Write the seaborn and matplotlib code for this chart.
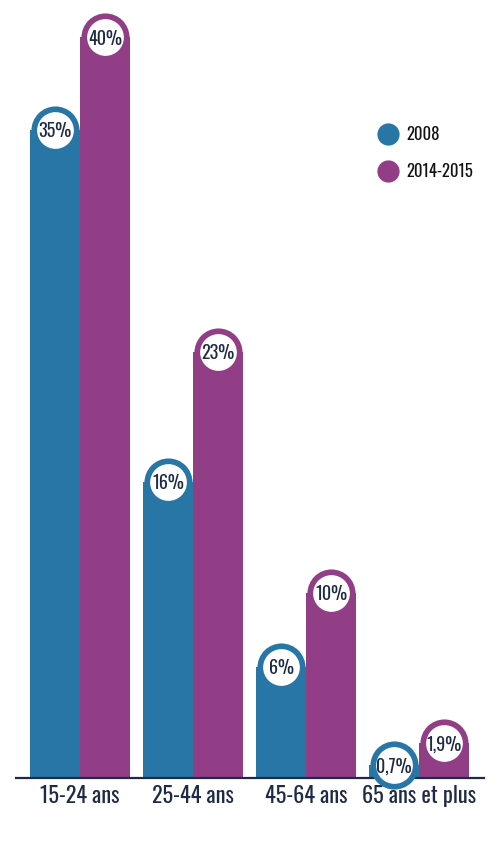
import matplotlib
matplotlib.use("Agg")
import matplotlib.pyplot as plt
import pandas as pd
import seaborn as sns
from matplotlib.lines import Line2D

# data
groups = ["15-24 ans", "25-44 ans", "45-64 ans", "65 ans et plus"]
periods = ["2008", "2014-2015"]
vals_2008 = [35, 16, 6, 0.7]
vals_2014 = [40, 23, 10, 1.9]

BLUE = "#2876A6"
PURPLE = "#913E87"
NAVY = "#1F2B45"
FONTS = ["Oswald", "DejaVu Sans"]

df = pd.DataFrame({
    "group": groups * 2,
    "period": [periods[0]] * 4 + [periods[1]] * 4,
    "value": vals_2008 + vals_2014,
})

sns.set_style("white")
plt.rcParams["font.family"] = FONTS
plt.rcParams["font.weight"] = 300

fig = plt.figure(figsize=(5, 8.43), dpi=100)
ax = fig.add_axes([0.031, 0.0771, 0.936, 0.9229])

sns.barplot(data=df, x="group", y="value", hue="period", hue_order=periods,
            palette=[BLUE, PURPLE], width=0.885, gap=0, saturation=1,
            linewidth=0, legend=False, ax=ax)

ax.set_xlim(-0.57, 3.57)
ax.set_ylim(0, 42)

# round badges on top of each bar
bars = [p for p in ax.patches if p.get_height() > 0]
for p in bars:
    cx = p.get_x() + p.get_width() / 2
    top = p.get_height()
    col = p.get_facecolor()
    ax.scatter([cx], [top], s=1200, color=col, linewidths=0, zorder=3, clip_on=False)
    ax.scatter([cx], [top], s=700, color="white", linewidths=0, zorder=4, clip_on=False)
    lab = f"{top:g}".replace(".", ",") + "%"
    ax.text(cx, top, lab, ha="center", va="center_baseline", fontsize=13,
            color=NAVY, zorder=5, family=FONTS, weight=300)

# axis styling
for s in ["top", "right", "left"]:
    ax.spines[s].set_visible(False)
ax.spines["bottom"].set_color(NAVY)
ax.spines["bottom"].set_linewidth(1.6)
ax.set_yticks([])
ax.set_ylabel("")
ax.set_xlabel("")
ax.set_xticks([-0.57, 0.5, 1.5, 2.5, 3.57])
ax.set_xticklabels([])
ax.tick_params(axis="x", which="major", length=5.5, width=1.6, color=NAVY, direction="out")
ax.set_xticks(range(len(groups)), minor=True)
ax.set_xticklabels(groups, minor=True, fontsize=16, color=NAVY, family=FONTS, weight=300)
ax.tick_params(axis="x", which="minor", length=0, pad=5)

# legend
handles = [Line2D([], [], marker="o", linestyle="", markersize=16,
                  markerfacecolor=c, markeredgewidth=0) for c in [BLUE, PURPLE]]
leg = ax.legend(handles, periods, loc="upper left", frameon=False,
                bbox_to_anchor=(0.726, 1 - 111 / 843), bbox_transform=fig.transFigure,
                prop={"family": FONTS, "size": 12, "weight": 300}, labelspacing=1.2,
                handletextpad=0.5, handlelength=1.2)
for t in leg.get_texts():
    t.set_color("#111111")

fig.savefig("out.png", dpi=100)
